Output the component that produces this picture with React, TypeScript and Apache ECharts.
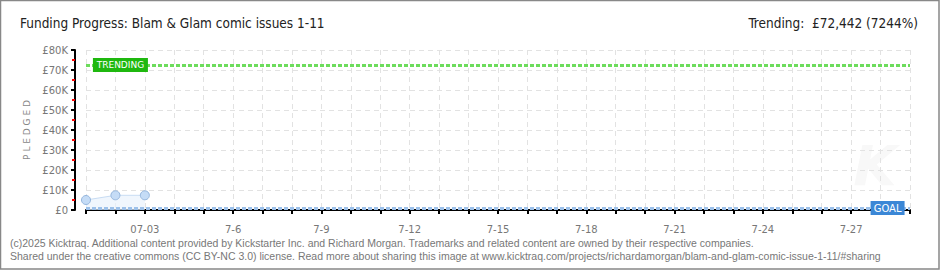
import React, { useEffect, useRef } from "react";
import * as echarts from "echarts";

const dates = [
  "7-1", "7-2", "7-3", "7-4", "7-5", "7-6", "7-7", "7-8", "7-9", "7-10",
  "7-11", "7-12", "7-13", "7-14", "7-15", "7-16", "7-17", "7-18", "7-19", "7-20",
  "7-21", "7-22", "7-23", "7-24", "7-25", "7-26", "7-27", "7-28", "7-29",
];
const xTickLabels = [
  "", "", "07-03", "", "", "7-6", "", "", "7-9", "",
  "", "7-12", "", "", "7-15", "", "", "7-18", "", "",
  "7-21", "", "", "7-24", "", "", "7-27", "", "",
];
const pledged = [5000, 7350, 7350];
const trendingValue = 72442;
const goalValue = 1000;
const yMax = 80000;
const yInterval = 10000;

const titleText = "Funding Progress: Blam & Glam comic issues 1-11";
const trendingText = "Trending:  £72,442 (7244%)";
const footer1 =
  "(c)2025 Kicktraq. Additional content provided by Kickstarter Inc. and Richard Morgan. Trademarks and related content are owned by their respective companies.";
const footer2 =
  "Shared under the creative commons (CC BY-NC 3.0) license. Read more about sharing this image at www.kicktraq.com/projects/richardamorgan/blam-and-glam-comic-issue-1-11/#sharing";

export default function App() {
  const ref = useRef<HTMLDivElement>(null);
  useEffect(() => {
    document.body.style.margin = "0";
    const chart = echarts.init(ref.current!, undefined, { renderer: "svg" });
    const axisFont = "DejaVu Sans";
    const headFont = "13.5px 'DejaVu Sans Condensed', 'Liberation Sans', sans-serif";
    chart.setOption({
      animation: false,
      backgroundColor: "#ffffff",
      grid: { left: 86, right: 30, top: 50, bottom: 60, containLabel: false },
      xAxis: {
        type: "category",
        data: dates,
        boundaryGap: false,
        offset: 10,
        axisLine: { lineStyle: { color: "#000", width: 2 } },
        axisTick: { show: true, interval: 0, length: 4, lineStyle: { color: "#000", width: 2 } },
        axisLabel: {
          interval: 0,
          margin: 4,
          color: "#777",
          fontFamily: axisFont,
          fontSize: 10,
          formatter: (_v: string, i: number) => xTickLabels[i] || "",
        },
        splitLine: { show: true, interval: 0, lineStyle: { color: "#e2e2e2", type: [5, 4] } },
      },
      yAxis: {
        type: "value",
        min: 0,
        max: yMax,
        interval: yInterval,
        offset: 11,
        name: "P L E D G E D",
        nameLocation: "middle",
        nameGap: 42,
        nameRotate: 90,
        nameTextStyle: { color: "#888", fontFamily: axisFont, fontSize: 9 },
        axisLine: { show: true, lineStyle: { color: "#000", width: 2 } },
        axisTick: { show: true, length: 4, lineStyle: { color: "#000", width: 2 } },
        minorTick: { show: true, splitNumber: 2, length: 3, lineStyle: { color: "#ff0000", width: 2 } },
        axisLabel: {
          margin: 7,
          color: "#777",
          fontFamily: axisFont,
          fontSize: 10,
          formatter: (v: number) => (v === 0 ? "£0" : "£" + v / 1000 + "K"),
        },
        splitLine: { show: true, lineStyle: { color: "#e2e2e2", type: [5, 4] } },
      },
      series: [
        {
          type: "line",
          data: pledged,
          symbol: "circle",
          symbolSize: 9,
          lineStyle: { color: "#c8dcf3", width: 1 },
          itemStyle: { color: "#c5dcf6", borderColor: "#95b6dd", borderWidth: 1 },
          areaStyle: { color: "#eaf2fc" },
          z: 3,
          markLine: {
            silent: true,
            symbol: "none",
            label: { show: false },
            data: [
              { yAxis: trendingValue, lineStyle: { color: "#6ddc5c", width: 3, type: [4, 2] } },
              { yAxis: goalValue, lineStyle: { color: "#9dc1ea", width: 3, type: [4, 2] } },
            ],
          },
          markPoint: {
            silent: true,
            data: [
              {
                coord: [dates[1], trendingValue],
                symbol: "rect",
                symbolSize: [55, 14],
                symbolOffset: [5, 0],
                itemStyle: { color: "#1fb80f" },
                label: {
                  show: true,
                  position: "inside",
                  formatter: "TRENDING",
                  color: "#fff",
                  fontFamily: axisFont,
                  fontSize: 9,
                },
              },
              {
                coord: [dates[27], goalValue],
                symbol: "rect",
                symbolSize: [34, 14],
                symbolOffset: [7, 0],
                itemStyle: { color: "#3b87d6" },
                label: {
                  show: true,
                  position: "inside",
                  formatter: "GOAL",
                  color: "#fff",
                  fontFamily: axisFont,
                  fontSize: 10,
                },
              },
            ],
          },
        },
      ],
      graphic: [
        {
          type: "text",
          z: -10,
          x: 875,
          y: 165,
          style: {
            text: "K",
            fill: "#f8f8f8",
            font: "italic bold 56px 'DejaVu Sans'",
            align: "center",
            verticalAlign: "middle",
          },
        },
        {
          type: "text",
          x: 20,
          y: 23,
          style: { text: titleText, fill: "#222", font: headFont, verticalAlign: "middle" },
        },
        {
          type: "text",
          x: 918,
          y: 23,
          style: { text: trendingText, fill: "#222", font: headFont, align: "right", verticalAlign: "middle" },
        },
        {
          type: "text",
          x: 10,
          y: 243,
          style: { text: footer1, fill: "#777", font: "10.5px 'Liberation Sans'", verticalAlign: "middle" },
        },
        {
          type: "text",
          x: 10,
          y: 256,
          style: { text: footer2, fill: "#777", font: "10.5px 'Liberation Sans'", verticalAlign: "middle" },
        },
        {
          type: "rect",
          shape: { x: 0.5, y: 0.5, width: 938.5, height: 268.5 },
          style: { fill: "none", stroke: "#888", lineWidth: 1.5 },
        },
      ],
    });
    return () => chart.dispose();
  }, []);
  return <div ref={ref} style={{ width: 940, height: 270 }} />;
}
